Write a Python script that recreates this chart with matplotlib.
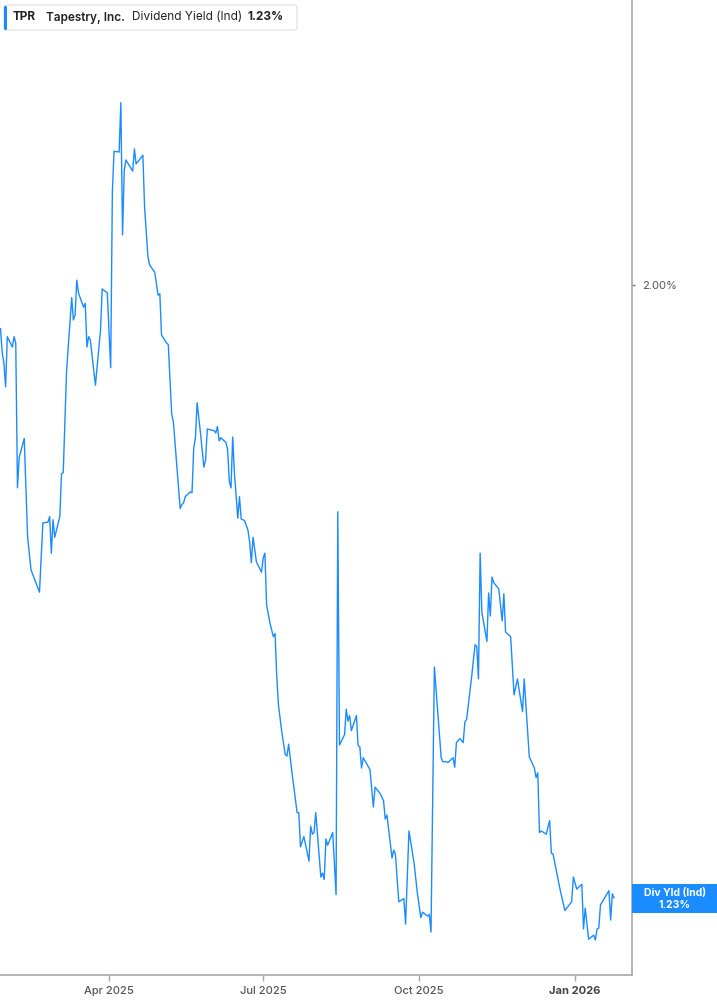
import matplotlib
matplotlib.use("Agg")
import matplotlib.pyplot as plt
from matplotlib.patches import FancyBboxPatch, Rectangle
from matplotlib.transforms import IdentityTransform
import pandas as pd

plt.rcParams['font.family'] = ['Inter', 'DejaVu Sans']

# Datos: rendimiento por dividendo (%) de TPR
fechas = [
    '2025-01-27', '2025-01-28', '2025-01-29', '2025-01-30', '2025-01-31',
    '2025-02-03', '2025-02-04', '2025-02-05', '2025-02-06', '2025-02-07',
    '2025-02-10', '2025-02-12', '2025-02-14', '2025-02-19', '2025-02-21',
    '2025-02-24', '2025-02-25', '2025-02-26', '2025-02-27', '2025-02-28',
    '2025-03-03', '2025-03-04', '2025-03-05', '2025-03-07', '2025-03-10',
    '2025-03-11', '2025-03-12', '2025-03-13', '2025-03-14', '2025-03-17',
    '2025-03-18', '2025-03-19', '2025-03-20', '2025-03-21', '2025-03-24',
    '2025-03-27', '2025-03-28', '2025-03-31', '2025-04-02', '2025-04-03',
    '2025-04-04', '2025-04-07', '2025-04-08', '2025-04-09', '2025-04-10',
    '2025-04-11', '2025-04-15', '2025-04-16', '2025-04-17', '2025-04-21',
    '2025-04-22', '2025-04-24', '2025-04-25', '2025-04-28', '2025-04-30',
    '2025-05-01', '2025-05-02', '2025-05-05', '2025-05-06', '2025-05-07',
    '2025-05-08', '2025-05-09', '2025-05-13', '2025-05-14', '2025-05-15',
    '2025-05-16', '2025-05-19', '2025-05-20', '2025-05-21', '2025-05-22',
    '2025-05-23', '2025-05-25', '2025-05-27', '2025-05-28', '2025-05-29',
    '2025-06-02', '2025-06-03', '2025-06-04', '2025-06-05', '2025-06-06',
    '2025-06-09', '2025-06-10', '2025-06-11', '2025-06-12', '2025-06-13',
    '2025-06-14', '2025-06-16', '2025-06-17', '2025-06-18', '2025-06-20',
    '2025-06-22', '2025-06-23', '2025-06-24', '2025-06-25', '2025-06-27',
    '2025-06-30', '2025-07-01', '2025-07-02', '2025-07-03', '2025-07-05',
    '2025-07-07', '2025-07-08', '2025-07-09', '2025-07-10', '2025-07-12',
    '2025-07-14', '2025-07-15', '2025-07-16', '2025-07-18', '2025-07-21',
    '2025-07-22', '2025-07-23', '2025-07-25', '2025-07-28', '2025-07-29',
    '2025-07-30', '2025-07-31', '2025-08-01', '2025-08-04', '2025-08-05',
    '2025-08-06', '2025-08-07', '2025-08-08', '2025-08-11', '2025-08-13',
    '2025-08-14', '2025-08-15', '2025-08-18', '2025-08-19', '2025-08-20',
    '2025-08-21', '2025-08-22', '2025-08-25', '2025-08-26', '2025-08-27',
    '2025-08-28', '2025-08-29', '2025-09-02', '2025-09-04', '2025-09-05',
    '2025-09-08', '2025-09-10', '2025-09-11', '2025-09-12', '2025-09-15',
    '2025-09-16', '2025-09-17', '2025-09-19', '2025-09-22', '2025-09-23',
    '2025-09-25', '2025-09-28', '2025-09-30', '2025-10-02', '2025-10-03',
    '2025-10-06', '2025-10-07', '2025-10-08', '2025-10-10', '2025-10-14',
    '2025-10-15', '2025-10-17', '2025-10-18', '2025-10-21', '2025-10-22',
    '2025-10-23', '2025-10-25', '2025-10-27', '2025-10-28', '2025-10-29',
    '2025-11-01', '2025-11-03', '2025-11-04', '2025-11-05', '2025-11-06',
    '2025-11-07', '2025-11-10', '2025-11-11', '2025-11-12', '2025-11-13',
    '2025-11-14', '2025-11-17', '2025-11-19', '2025-11-20', '2025-11-21',
    '2025-11-24', '2025-11-26', '2025-11-28', '2025-12-01', '2025-12-02',
    '2025-12-05', '2025-12-08', '2025-12-09', '2025-12-10', '2025-12-11',
    '2025-12-12', '2025-12-15', '2025-12-17', '2025-12-18', '2025-12-19',
    '2025-12-23', '2025-12-26', '2025-12-30', '2025-12-31', '2026-01-02',
    '2026-01-05', '2026-01-06', '2026-01-07', '2026-01-09', '2026-01-12',
    '2026-01-13', '2026-01-14', '2026-01-15', '2026-01-16', '2026-01-21',
    '2026-01-22', '2026-01-23', '2026-01-24',
]
rendimiento = [
    1.945, 1.915, 1.902, 1.872, 1.935,
    1.922, 1.935, 1.927, 1.745, 1.783,
    1.807, 1.683, 1.642, 1.614, 1.701,
    1.702, 1.709, 1.663, 1.705, 1.683,
    1.709, 1.763, 1.764, 1.893, 1.984,
    1.956, 1.962, 2.006, 1.990, 1.972,
    1.977, 1.922, 1.935, 1.931, 1.874,
    1.943, 1.995, 1.990, 1.896, 2.117,
    2.168, 2.167, 2.229, 2.063, 2.144,
    2.157, 2.143, 2.171, 2.152, 2.163,
    2.098, 2.035, 2.025, 2.016, 1.987,
    1.989, 1.937, 1.927, 1.925, 1.881,
    1.838, 1.828, 1.719, 1.724, 1.726,
    1.734, 1.740, 1.739, 1.795, 1.808,
    1.852, 1.814, 1.771, 1.780, 1.819,
    1.817, 1.814, 1.822, 1.804, 1.808,
    1.802, 1.793, 1.753, 1.745, 1.809,
    1.764, 1.707, 1.734, 1.706, 1.704,
    1.692, 1.677, 1.651, 1.683, 1.652,
    1.639, 1.657, 1.663, 1.598, 1.575,
    1.558, 1.562, 1.508, 1.472, 1.438,
    1.410, 1.408, 1.423, 1.387, 1.337,
    1.337, 1.294, 1.307, 1.276, 1.320,
    1.310, 1.312, 1.337, 1.256, 1.261,
    1.253, 1.304, 1.296, 1.312, 1.234,
    1.715, 1.422, 1.435, 1.467, 1.452,
    1.459, 1.440, 1.459, 1.421, 1.420,
    1.393, 1.406, 1.391, 1.344, 1.369,
    1.361, 1.352, 1.329, 1.334, 1.280,
    1.290, 1.285, 1.225, 1.229, 1.197,
    1.314, 1.274, 1.235, 1.205, 1.212,
    1.207, 1.209, 1.187, 1.520, 1.406,
    1.401, 1.401, 1.400, 1.406, 1.394,
    1.425, 1.430, 1.425, 1.451, 1.454,
    1.508, 1.548, 1.546, 1.505, 1.663,
    1.589, 1.552, 1.613, 1.584, 1.633,
    1.626, 1.618, 1.578, 1.612, 1.564,
    1.558, 1.485, 1.505, 1.464, 1.505,
    1.407, 1.393, 1.381, 1.387, 1.312,
    1.314, 1.310, 1.327, 1.286, 1.285,
    1.242, 1.214, 1.225, 1.256, 1.241,
    1.247, 1.191, 1.217, 1.178, 1.183,
    1.177, 1.191, 1.192, 1.221, 1.239,
    1.202, 1.235, 1.230,
]
fechas_ticks = ['2025-04-01', '2025-07-01', '2025-10-01', '2026-01-01']
etiquetas_ticks = ['Apr 2025', 'Jul 2025', 'Oct 2025', 'Jan 2026']
ticks_y = [2.00]
etiquetas_y = ['2.00%']
ultimo_valor = '1.23%'

azul = '#1a8cff'
gris = '#a8a8a8'
texto_gris = '#555555'

ancho, alto = 717, 1005
fig = plt.figure(figsize=(ancho / 100, alto / 100), dpi=100)
ax = fig.add_axes([0, 30 / alto, 632 / ancho, 975 / alto])

ax.plot(pd.to_datetime(fechas), rendimiento, color=azul, lw=1.0)

ax.set_xlim(pd.Timestamp('2025-01-26 16:48'), pd.Timestamp('2026-02-03 14:24'))
ax.set_ylim(1.133, 2.358)

ax.set_xticks(pd.to_datetime(fechas_ticks))
ax.set_xticklabels(etiquetas_ticks)
ax.tick_params(axis='x', direction='out', length=4, width=1, color=gris,
               labelsize=8, labelcolor=texto_gris, pad=4)
ax.get_xticklabels()[-1].set_fontweight('bold')
ax.get_xticklabels()[-1].set_color('#444444')
for lbl in ax.get_xticklabels()[:-1]:
    lbl.set_fontweight('medium')

ax.yaxis.tick_right()
ax.set_yticks(ticks_y)
ax.set_yticklabels(etiquetas_y)
ax.tick_params(axis='y', direction='out', length=2.5, width=1, color='#777777',
               labelsize=8, labelcolor=texto_gris, pad=5)

for lado in ['top', 'left']:
    ax.spines[lado].set_visible(False)
for lado in ['right', 'bottom']:
    ax.spines[lado].set_color(gris)
    ax.spines[lado].set_linewidth(1.2)

# Cuadro de leyenda arriba a la izquierda (en pixeles)
pix = IdentityTransform()
caja = FancyBboxPatch((4, alto - 30), 293, 25, boxstyle='round,pad=0,rounding_size=3',
                      transform=pix, facecolor='white', edgecolor='#e4e4e4', lw=1)
fig.patches.append(caja)
barra = FancyBboxPatch((4, alto - 30), 3, 24, boxstyle='round,pad=0,rounding_size=1.2',
                       transform=pix, facecolor=azul, edgecolor='none')
fig.patches.append(barra)

y_txt = 1 - 17.5 / alto
fig.text(13 / ancho, y_txt, 'TPR', fontsize=8.5, fontweight='bold', color='#222222', va='center')
fig.text(46 / ancho, y_txt, 'Tapestry, Inc.', fontsize=8.5, fontweight='semibold', color='#222222', va='center')
fig.text(132 / ancho, y_txt, 'Dividend Yield (Ind)', fontsize=8.5, color='#222222', va='center')
fig.text(248 / ancho, y_txt, ultimo_valor, fontsize=8.5, fontweight='bold', color='#222222', va='center')

# Etiqueta del ultimo valor sobre el eje derecho
etiqueta = Rectangle((632, alto - 913), 85, 29, transform=pix, facecolor=azul, edgecolor='none')
fig.patches.append(etiqueta)
fig.text(675 / ancho, 1 - 893 / alto, 'Div Yld (Ind)', fontsize=7.5, fontweight='bold',
         color='white', ha='center', va='center')
fig.text(675 / ancho, 1 - 904.5 / alto, ultimo_valor, fontsize=7.5, fontweight='bold',
         color='white', ha='center', va='center')

fig.savefig('out.png', dpi=100)
